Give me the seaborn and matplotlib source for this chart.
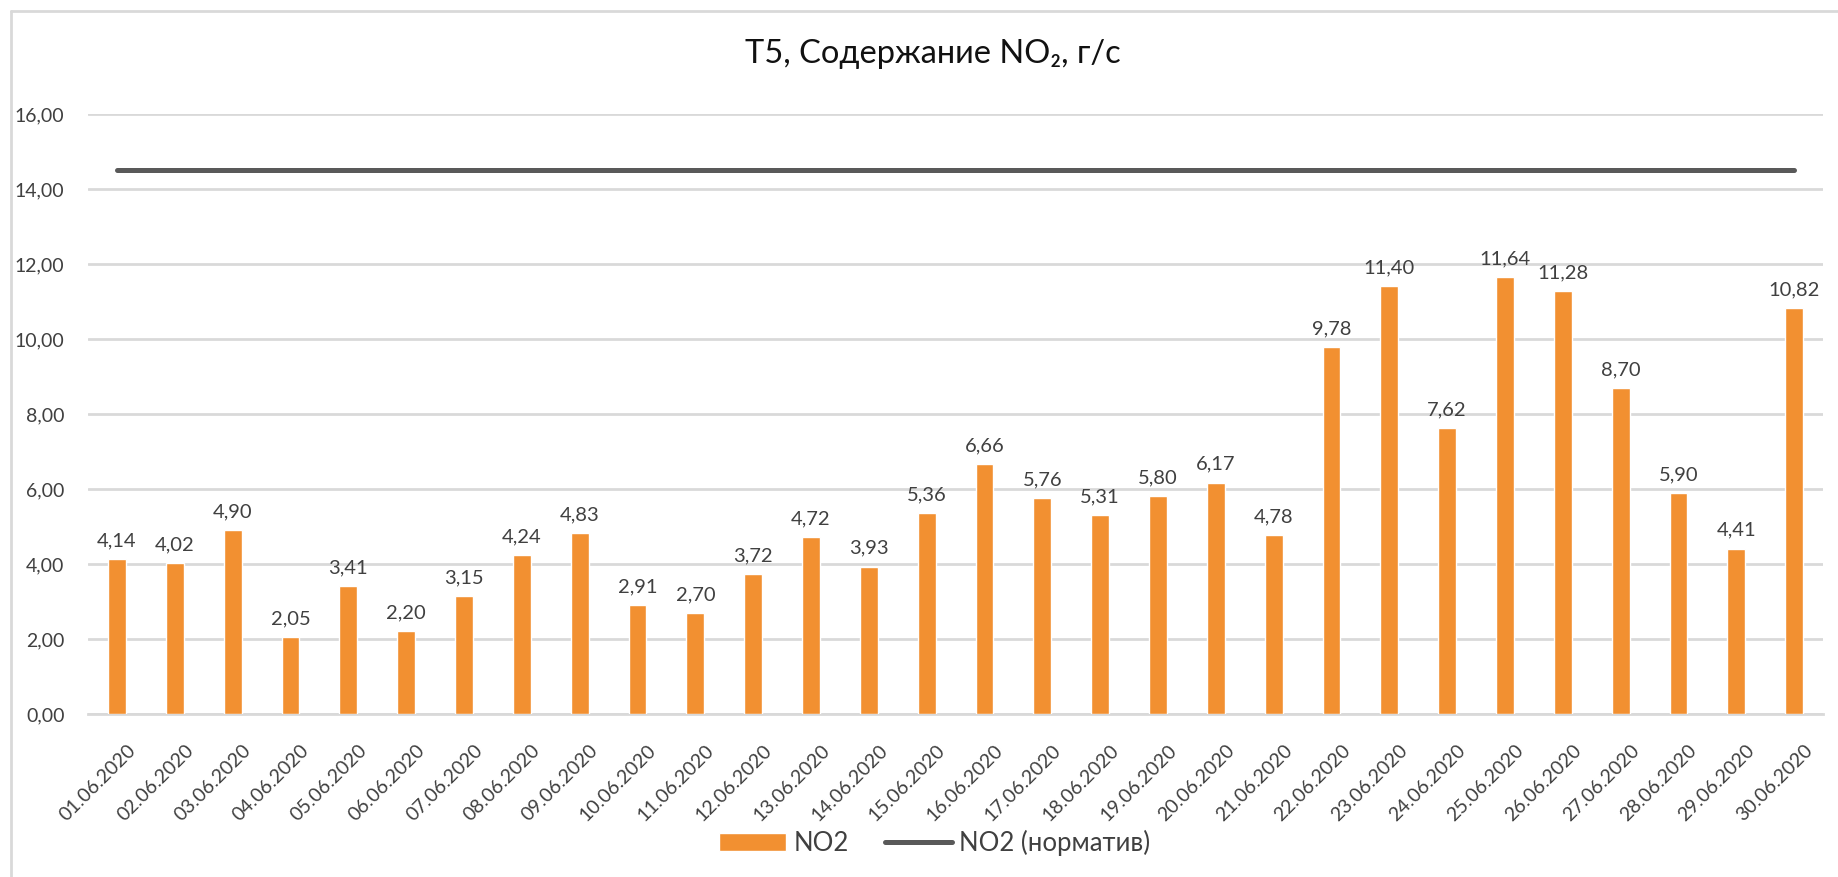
import numpy as np
import pandas as pd
import matplotlib
matplotlib.use("Agg")
import matplotlib.pyplot as plt
from matplotlib.ticker import FuncFormatter, FixedLocator
from matplotlib.transforms import ScaledTranslation
import seaborn as sns

# data
dates = ["01.06.2020", "02.06.2020", "03.06.2020", "04.06.2020", "05.06.2020",
         "06.06.2020", "07.06.2020", "08.06.2020", "09.06.2020", "10.06.2020",
         "11.06.2020", "12.06.2020", "13.06.2020", "14.06.2020", "15.06.2020",
         "16.06.2020", "17.06.2020", "18.06.2020", "19.06.2020", "20.06.2020",
         "21.06.2020", "22.06.2020", "23.06.2020", "24.06.2020", "25.06.2020",
         "26.06.2020", "27.06.2020", "28.06.2020", "29.06.2020", "30.06.2020"]
no2 = [4.14, 4.02, 4.90, 2.05, 3.41, 2.20, 3.15, 4.24, 4.83, 2.91,
       2.70, 3.72, 4.72, 3.93, 5.36, 6.66, 5.76, 5.31, 5.80, 6.17,
       4.78, 9.78, 11.40, 7.62, 11.64, 11.28, 8.70, 5.90, 4.41, 10.82]
norm_value = 14.5
yticks = [0, 2, 4, 6, 8, 10, 12, 14, 16]

bar_color = "#f29031"
line_color = "#595959"
text_color = "#404040"
grid_color = "#d9d9d9"

sns.set_style("white")
plt.rcParams["font.family"] = ["Lato", "DejaVu Sans"]

df = pd.DataFrame({"date": dates, "no2": no2})
df["norm"] = norm_value
df["pos"] = np.arange(len(df))

fig = plt.figure(figsize=(18.38, 8.77), dpi=100)
ax = fig.add_axes([0.0479, 0.186, 0.9440, 0.684])

sns.barplot(data=df, x="date", y="no2", color=bar_color, saturation=1,
            width=0.31, ax=ax, label="NO2", zorder=3)
sns.lineplot(data=df, x="pos", y="norm", color=line_color, linewidth=3.6,
             ax=ax, label="NO2 (норматив)", zorder=4)

# value labels on bars
fmt = lambda v: f"{v:.2f}".replace(".", ",")
ax.bar_label(ax.containers[0], labels=[fmt(v) for v in no2], padding=7,
             fontsize=14.5, color=text_color)

ax.set_ylim(0, 16)
ax.set_xlim(-0.5, len(dates) - 0.5)
ax.yaxis.set_major_locator(FixedLocator(yticks))
ax.yaxis.set_major_formatter(FuncFormatter(lambda v, p: fmt(v)))
ax.grid(axis="y", color=grid_color, linewidth=2, zorder=0)
ax.set_xlabel("")
ax.set_ylabel("")

for s in ["top", "right", "left"]:
    ax.spines[s].set_visible(False)
ax.spines["bottom"].set_color(grid_color)
ax.spines["bottom"].set_linewidth(2)

ax.tick_params(axis="y", length=0, labelsize=14, labelcolor=text_color, pad=17)
ax.set_xticks(np.arange(len(dates)))
ax.set_xticklabels(dates, rotation=45, ha="right", rotation_mode="anchor",
                   fontsize=14, color=text_color)
ax.tick_params(axis="x", length=0, pad=20)
shift = ScaledTranslation(7 / 72, 0, fig.dpi_scale_trans)
for lab in ax.get_xticklabels():
    lab.set_transform(lab.get_transform() + shift)
# category boundary ticks
ax.set_xticks(np.arange(len(dates) + 1) - 0.5, minor=True)
ax.tick_params(axis="x", which="minor", length=8, width=1.5, color=grid_color)

ax.set_title("Т5, Содержание NO₂, г/с", fontsize=23.5, color="#111111",
             pad=37, x=0.487)

handles, labels = ax.get_legend_handles_labels()
order = [labels.index("NO2"), labels.index("NO2 (норматив)")]
ax.legend([handles[i] for i in order], [labels[i] for i in order],
          loc="upper center", bbox_to_anchor=(0.488, -0.155), ncol=2,
          frameon=False, fontsize=18.5, handlelength=2.6, columnspacing=1.4,
          handletextpad=0.3, labelcolor=text_color)

# chart frame
fig.add_artist(plt.Line2D([0.006, 1.0], [0.988, 0.988], transform=fig.transFigure,
                          color=grid_color, linewidth=2))
fig.add_artist(plt.Line2D([0.006, 0.006], [0.0, 0.988], transform=fig.transFigure,
                          color=grid_color, linewidth=2))

fig.savefig("out.png", dpi=100)
